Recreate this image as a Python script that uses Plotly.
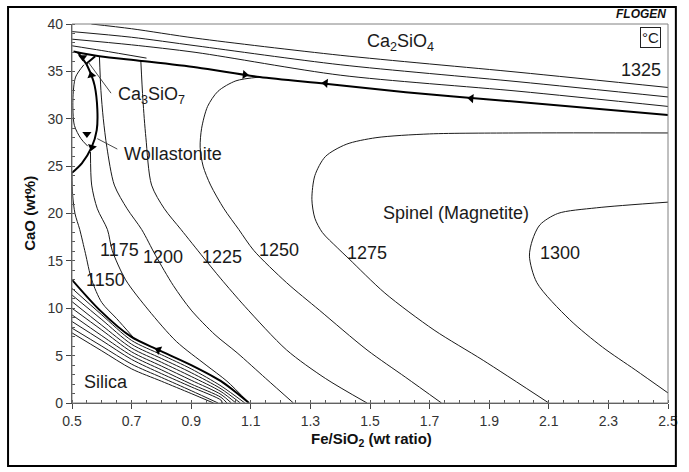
import plotly.graph_objects as go

# ---------------- data ----------------
# isotherms (deg C)
T1150_X = [0.5, 0.502, 0.51, 0.526, 0.545, 0.566, 0.6, 0.65, 0.705]
T1150_Y = [24.3, 22.0, 20.0, 18.3, 15.8, 13.0, 10.6, 8.9, 6.95]
T1175_X = [0.562, 0.566, 0.585, 0.619, 0.635, 0.68, 0.757, 0.85, 0.95, 1.02, 1.094]
T1175_Y = [26.5, 23.0, 20.5, 18.3, 16.1, 13.0, 9.8, 6.5, 4.0, 2.3, 0.0]
T1200_X = [0.592, 0.597, 0.605, 0.617, 0.642, 0.685, 0.734, 0.78, 0.84, 0.9, 0.98, 1.054, 1.15, 1.243]
T1200_Y = [36.6, 33.0, 30.0, 27.0, 23.0, 20.5, 18.3, 15.6, 12.4, 9.8, 7.2, 5.3, 2.6, 0.0]
T1225_X = [0.731, 0.738, 0.748, 0.767, 0.81, 0.866, 0.94, 1.0, 1.08, 1.22, 1.35, 1.49]
T1225_Y = [36.1, 32.0, 28.0, 23.0, 20.5, 18.3, 15.4, 13.1, 10.2, 5.6, 2.6, 0.0]
T1250_X = [1.13, 1.05, 0.99, 0.955, 0.935, 0.93, 0.94, 0.965, 1.01, 1.06, 1.11, 1.22, 1.33, 1.49, 1.62, 1.74]
T1250_Y = [34.4, 34.0, 32.9, 31.3, 29.0, 27.0, 25.0, 23.0, 20.5, 18.3, 16.1, 12.7, 9.8, 5.6, 2.7, 0.0]
T1275_X = [2.5, 2.0, 1.7, 1.52, 1.42, 1.35, 1.315, 1.305, 1.315, 1.34, 1.39, 1.43, 1.55, 1.715, 1.88, 2.1]
T1275_Y = [28.5, 28.5, 28.4, 28.0, 27.3, 26.0, 24.0, 21.5, 19.5, 18.0, 16.4, 15.2, 11.6, 7.7, 4.5, 0.0]
T1300_X = [2.5, 2.26, 2.13, 2.07, 2.045, 2.035, 2.06, 2.17, 2.28, 2.39, 2.5]
T1300_Y = [21.2, 20.6, 20.0, 18.8, 17.2, 15.5, 12.7, 8.8, 5.9, 3.5, 1.06]

# Ca2SiO4 field isotherms
C2S_1_X = [0.565, 0.7, 0.916, 1.4, 2.0, 2.5]
C2S_1_Y = [40.0, 39.5, 38.5, 36.7, 34.9, 33.3]
C2S_2_X = [0.5, 0.7, 0.916, 1.4, 2.0, 2.5]
C2S_2_Y = [39.2, 38.6, 37.7, 35.7, 33.9, 32.3]
C2S_3_X = [0.5, 0.7, 0.916, 1.4, 2.0, 2.5]
C2S_3_Y = [38.4, 37.8, 37.0, 34.6, 32.9, 31.3]
C2S_4_X = [0.5, 0.6, 0.75]
C2S_4_Y = [37.7, 37.2, 36.4]

# phase boundaries
B_C2S_X = [0.505, 0.592, 0.734, 0.92, 1.13, 1.35, 1.62, 1.84, 2.5]
B_C2S_Y = [37.1, 36.6, 36.1, 35.4, 34.4, 33.7, 32.8, 32.2, 30.4]
B_C3S_A_X = [0.52, 0.548]
B_C3S_A_Y = [37.0, 35.8]
B_C3S_B_X = [0.578, 0.548]
B_C3S_B_Y = [36.6, 35.8]
B_WOL_X = [0.548, 0.565, 0.576, 0.585, 0.583, 0.566, 0.533, 0.5]
B_WOL_Y = [35.8, 34.6, 33.5, 31.0, 28.8, 27.0, 25.3, 24.3]
WOL_IN_X = [0.54, 0.512, 0.503, 0.508, 0.53, 0.553]
WOL_IN_Y = [35.7, 34.4, 32.0, 29.3, 27.9, 27.1]
B_SIL_X = [0.5, 0.593, 0.698, 0.79, 0.9, 1.0, 1.094]
B_SIL_Y = [13.0, 9.8, 7.0, 5.6, 4.0, 2.3, 0.0]

# silica field isotherms (hatching)
SIL_X = [
    [0.5, 0.6, 0.7, 0.8, 0.9, 1.0, 1.08],
    [0.5, 0.6, 0.7, 0.8, 0.9, 1.0, 1.065],
    [0.5, 0.6, 0.7, 0.8, 0.9, 1.0, 1.05],
    [0.5, 0.6, 0.7, 0.8, 0.9, 1.0, 1.035],
    [0.5, 0.6, 0.7, 0.8, 0.9, 1.0, 1.02],
    [0.5, 0.6, 0.7, 0.8, 0.9, 1.0, 1.005],
    [0.5, 0.6, 0.7, 0.8, 0.9, 0.99],
    [0.5, 0.6, 0.7, 0.8, 0.9, 0.975],
]
SIL_Y = [
    [12.1, 9.3, 6.6, 5.1, 3.6, 1.8, 0.0],
    [11.4, 8.8, 6.2, 4.7, 3.2, 1.5, 0.0],
    [10.7, 8.2, 5.8, 4.3, 2.8, 1.2, 0.0],
    [10.0, 7.7, 5.4, 3.9, 2.4, 0.9, 0.0],
    [9.3, 7.1, 5.0, 3.5, 2.0, 0.6, 0.0],
    [8.6, 6.6, 4.6, 3.1, 1.7, 0.3, 0.0],
    [7.9, 6.0, 4.1, 2.7, 1.3, 0.0],
    [7.4, 5.5, 3.6, 2.3, 1.0, 0.0],
]

# leader lines
LEAD_C3S_X = [0.631, 0.554]
LEAD_C3S_Y = [32.7, 36.0]
LEAD_WOL_X = [0.652, 0.585]
LEAD_WOL_Y = [26.8, 27.9]

# arrows on boundaries
ARROW_X = [1.351, 1.84, 1.08, 0.79, 0.565, 0.55, 0.567, 0.536]
ARROW_Y = [33.75, 32.15, 34.65, 5.6, 34.6, 28.4, 27.0, 36.5]
ARROW_SYM = ["triangle-left", "triangle-left", "triangle-right", "triangle-left",
             "triangle-up", "triangle-down", "triangle-down", "triangle-down"]
ARROW_ANG = [6, 5, 6, 25, -15, 0, 15, 0]

ISO_LABELS = ["1150", "1175", "1200", "1225", "1250", "1275", "1300"]
ISO_LABEL_X = [0.612, 0.658, 0.807, 1.005, 1.196, 1.49, 2.137]
ISO_LABEL_Y = [13.0, 16.1, 15.4, 15.4, 16.1, 15.8, 15.8]

X_TICKS = [0.5, 0.7, 0.9, 1.1, 1.3, 1.5, 1.7, 1.9, 2.1, 2.3, 2.5]
Y_TICKS = [0, 5, 10, 15, 20, 25, 30, 35, 40]

# ---------------- figure ----------------
FONT = "Liberation Sans, Arial, Helvetica, sans-serif"
INK = "#1a1a1a"

fig = go.Figure()


def add_line(x, y, width=1.0, color=INK, smooth=0.8):
    fig.add_trace(go.Scatter(
        x=x, y=y, mode="lines",
        line=dict(color=color, width=width, shape="spline", smoothing=smooth),
        hoverinfo="skip", showlegend=False))


for xs, ys in zip(SIL_X, SIL_Y):
    add_line(xs, ys, 1.0)

for xs, ys in [(T1150_X, T1150_Y), (T1175_X, T1175_Y), (T1200_X, T1200_Y),
               (T1225_X, T1225_Y), (T1250_X, T1250_Y), (T1275_X, T1275_Y),
               (T1300_X, T1300_Y), (C2S_1_X, C2S_1_Y), (C2S_2_X, C2S_2_Y),
               (C2S_3_X, C2S_3_Y), (C2S_4_X, C2S_4_Y), (WOL_IN_X, WOL_IN_Y)]:
    add_line(xs, ys, 1.0)

for xs, ys in [(B_C2S_X, B_C2S_Y), (B_WOL_X, B_WOL_Y), (B_SIL_X, B_SIL_Y),
               (B_C3S_A_X, B_C3S_A_Y), (B_C3S_B_X, B_C3S_B_Y)]:
    add_line(xs, ys, 2.0, "#000000")

for xs, ys in [(LEAD_C3S_X, LEAD_C3S_Y), (LEAD_WOL_X, LEAD_WOL_Y)]:
    add_line(xs, ys, 0.9, "#333333", 0)

fig.add_trace(go.Scatter(
    x=ARROW_X, y=ARROW_Y, mode="markers",
    marker=dict(symbol=ARROW_SYM, angle=ARROW_ANG, size=8, color="#000000"),
    hoverinfo="skip", showlegend=False))


def label(x, y, text, size=18, xanchor="center", **kw):
    fig.add_annotation(x=x, y=y, xref="x", yref="y", text=text, showarrow=False,
                       xanchor=xanchor, yanchor="middle",
                       font=dict(family=FONT, size=size, color=INK), **kw)


for t, lx, ly in zip(ISO_LABELS, ISO_LABEL_X, ISO_LABEL_Y):
    label(lx, ly, t, size=18)

label(1.602, 38.0, "Ca<sub>2</sub>SiO<sub>4</sub>")
label(0.649, 32.5, "Ca<sub>3</sub>SiO<sub>7</sub>", xanchor="left")
label(0.668, 26.3, "Wollastonite", xanchor="left")
label(1.79, 20.05, "Spinel (Magnetite)")
label(0.614, 2.2, "Silica")
label(2.411, 35.1, "1325")
label(2.44, 38.6, "°C", size=15, bordercolor="#222222", borderwidth=1, borderpad=1)

fig.add_annotation(x=1.0, y=1.0264, xref="paper", yref="paper",
                   text="<b><i>FLOGEN</i></b>", showarrow=False,
                   xanchor="right", yanchor="middle",
                   font=dict(family=FONT, size=12, color="#111111"))

fig.add_annotation(x=0.5017, y=-0.0976, xref="paper", yref="paper",
                   text="<b>Fe/SiO<sub>2</sub> (wt ratio)</b>", showarrow=False,
                   xanchor="center", yanchor="middle",
                   font=dict(family=FONT, size=15, color="#111111"))
fig.add_annotation(x=-0.0726, y=0.501, xref="paper", yref="paper",
                   text="<b>CaO (wt%)</b>", showarrow=False, textangle=-90,
                   xanchor="center", yanchor="middle",
                   font=dict(family=FONT, size=15, color="#111111"))

# plot frame (thin grey) and outer border
fig.add_shape(type="rect", xref="paper", yref="paper", x0=0, y0=0, x1=1, y1=1,
              line=dict(color="#808080", width=1), layer="above")
fig.add_shape(type="rect", xref="paper", yref="paper",
              x0=-0.1073, y0=-0.1662, x1=1.0132, y1=1.0449,
              line=dict(color="#000000", width=2), layer="above")

fig.update_xaxes(
    range=[0.5, 2.5], tickvals=X_TICKS, tickformat=".1f",
    showgrid=False, zeroline=False, showline=True, linecolor="#444444", linewidth=1.3,
    ticks="outside", ticklen=5, tickwidth=1, tickcolor="#444444",
    tickfont=dict(family=FONT, size=14, color="#333333"),
    minor=dict(dtick=0.05, tick0=0.5, ticks="inside", ticklen=3, tickwidth=1, tickcolor="#555555"),
)
fig.update_yaxes(
    range=[0, 40], tickvals=Y_TICKS,
    showgrid=False, zeroline=False, showline=True, linecolor="#444444", linewidth=1.3,
    ticks="outside", ticklen=5, tickwidth=1, tickcolor="#444444",
    tickfont=dict(family=FONT, size=14, color="#333333"),
    minor=dict(dtick=1, tick0=0, ticks="inside", ticklen=3, tickwidth=1, tickcolor="#555555"),
)

fig.update_layout(
    width=689, height=472,
    margin=dict(l=72, r=11, t=24, b=69),
    paper_bgcolor="white", plot_bgcolor="white",
    showlegend=False,
)

fig.write_html(
    "out.html",
    config={"displayModeBar": False},
    post_script="document.body.style.margin='0px';document.body.style.overflow='hidden';",
)
